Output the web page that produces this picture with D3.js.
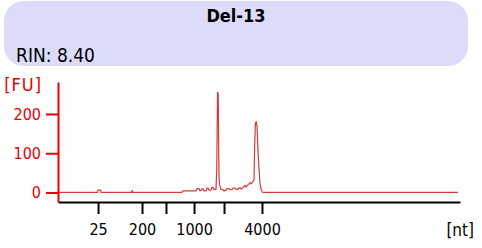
<!DOCTYPE html>
<html>
<head>
<meta charset="utf-8">
<script src="https://cdn.jsdelivr.net/npm/d3@7"></script>
<style>
  body { margin: 0; background: #fff; }
  text { font-family: "DejaVu Sans Condensed", "DejaVu Sans", sans-serif; font-stretch: condensed; }
</style>
</head>
<body>
<div id="canvas"></div>
<script>
const sampleName = "Del-13"
const rinLabel = "RIN: 8.40"

// ladder (nt) and where each one runs, in seconds
const ladderNt = [25, 200, 500, 1000, 2000, 4000]
const ladderTime = [21.98, 27.45, 30.43, 33.92, 37.65, 42.37]
const ladderLabels = ["25", "200", "", "1000", "", "4000"]

const fuTicks = [0, 100, 200]

// electropherogram trace: time (s) and fluorescence (FU)
const traceTime = [17.00, 21.91, 21.98, 22.29, 22.35, 26.18, 26.24, 26.30, 32.42, 32.55,
    34.16, 34.29, 34.54, 34.66, 34.79, 34.91, 35.03, 35.16, 35.41, 35.53, 35.66, 35.78,
    36.03, 36.15, 36.28, 36.40, 36.65, 36.75, 36.84, 36.93, 37.02, 37.09, 37.21, 37.27,
    37.52, 37.65, 37.90, 38.02, 38.27, 38.39, 38.64, 38.77, 39.01, 39.14, 39.39, 39.51,
    39.64, 39.76, 40.01, 40.13, 40.26, 40.38, 40.51, 40.63, 40.76, 40.88, 41.00, 41.13,
    41.25, 41.38, 41.46, 41.56, 41.66, 41.75, 41.91, 42.00, 42.12, 42.24, 42.40, 42.50, 66.75]
const traceFU = [0.5, 0.5, 6, 6, 0.5, 0.5, 6, 0.5, 0.5, 4,
    4, 10, 10, 5, 5, 9, 9, 4, 4, 11, 11, 6,
    6, 13, 13, 8, 8, 60, 256, 250, 40, 20, 12, 8,
    7, 4, 6, 10, 10, 7, 7, 11, 11, 8, 8, 12,
    12, 9, 12, 16, 18, 14, 17, 20, 22, 25, 22, 24,
    28, 32, 120, 178, 180, 170, 92, 60, 24, 10, 1, 0.5, 0.5]

const width = 482
const height = 248

const svg = d3.select("#canvas").append("svg")
    .attr("width", width)
    .attr("height", height)

// header panel
svg.append("rect")
    .attr("x", 4).attr("y", 1)
    .attr("width", 464).attr("height", 65)
    .attr("rx", 20).attr("ry", 20)
    .style("fill", "#dcdcfa")

svg.append("text")
    .attr("x", 236).attr("y", 22)
    .attr("text-anchor", "middle")
    .style("font-weight", "bold")
    .style("font-size", "18px")
    .text(sampleName)

svg.append("text")
    .attr("x", 16).attr("y", 62)
    .style("font-size", "19px")
    .text(rinLabel)

const x = d3.scaleLinear()
    .domain([17, 67])
    .range([58, 460])

const y = d3.scaleLinear()
    .domain([-24.2, 281.5])
    .range([202, 82])

const data = traceTime.map((t, i) => ({ t: t, fu: traceFU[i] }))

const line = d3.line()
    .x(d => x(d.t))
    .y(d => y(d.fu))

svg.append("path")
    .datum(data)
    .attr("d", line)
    .style("fill", "none")
    .style("stroke", "#d23c3c")
    .style("stroke-width", 1.2)

// x axis
const xAxis = svg.append("g")
    .attr("transform", "translate(0, 202)")
    .call(d3.axisBottom(x)
        .tickValues(ladderTime)
        .tickFormat((d, i) => ladderLabels[i])
        .tickSize(12)
        .tickSizeOuter(0)
        .tickPadding(10))
xAxis.select(".domain").style("stroke", "#000").style("stroke-width", 2)
xAxis.selectAll(".tick line").style("stroke", "#000").style("stroke-width", 2)
xAxis.selectAll(".tick text")
    .style("font-size", "16px")
    .style("fill", "#000")
    .style("font-family", "'DejaVu Sans Condensed', 'DejaVu Sans', sans-serif")

// y axis
const yAxis = svg.append("g")
    .attr("transform", "translate(58, 0)")
    .call(d3.axisLeft(y)
        .tickValues(fuTicks)
        .tickSize(12)
        .tickSizeOuter(0)
        .tickPadding(5))
yAxis.select(".domain").style("stroke", "#e60000").style("stroke-width", 2)
yAxis.selectAll(".tick line").style("stroke", "#e60000").style("stroke-width", 2)
yAxis.selectAll(".tick text")
    .style("font-size", "16px")
    .style("fill", "#e60000")
    .style("font-family", "'DejaVu Sans Condensed', 'DejaVu Sans', sans-serif")

svg.append("text")
    .attr("x", 42).attr("y", 91)
    .attr("text-anchor", "end")
    .style("font-size", "18px")
    .style("letter-spacing", "1px")
    .style("fill", "#e60000")
    .text("[FU]")

svg.append("text")
    .attr("x", 474).attr("y", 236)
    .attr("text-anchor", "end")
    .style("font-size", "17px")
    .text("[nt]")
</script>
</body>
</html>
